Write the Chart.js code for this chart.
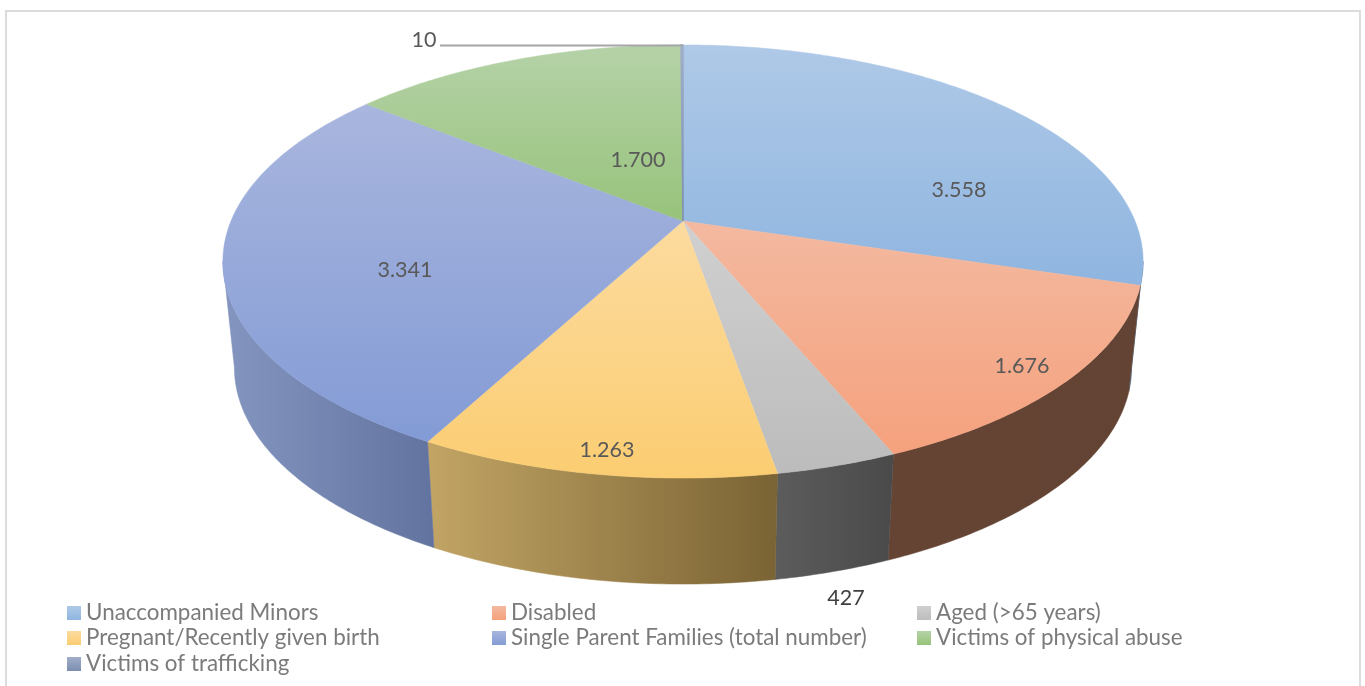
<!DOCTYPE html>
<html>
<head>
<meta charset="utf-8">
<title>Vulnerable groups</title>
<style>
  html, body { margin: 0; padding: 0; background: #fff; overflow: hidden; }
  canvas { display: block; }
</style>
<script src="https://cdn.jsdelivr.net/npm/chart.js@4"></script>
</head>
<body>
<canvas id="pie3d" width="1365" height="686"></canvas>
<script>
const categories = [
  'Unaccompanied Minors',
  'Disabled',
  'Aged (>65 years)',
  'Pregnant/Recently given birth',
  'Single Parent Families (total number)',
  'Victims of physical abuse',
  'Victims of trafficking'
];
const values = [3558, 1676, 427, 1263, 3341, 1700, 10];

// top face gradient (top -> bottom)
const faceTop = ['#afc9e7', '#f3b9a0', '#d0d0d0', '#fcdb9f', '#a9b6de', '#b5d2a8', '#a0aec9'];
const faceBottom = ['#8fb5e0', '#f5a17d', '#bcbcbc', '#fbcd72', '#839bd5', '#97c37b', '#7c8eb0'];
// side wall gradient (left -> right)
const wallLeft = ['#4f6b8e', '#654434', '#5c5c5c', '#c2a565', '#8496c0', '#5f7a50', '#5c6a86'];
const wallRight = ['#4f6b8e', '#634333', '#4a4a4a', '#7a6334', '#62739f', '#5f7a50', '#5c6a86'];

// perspective of the pie disc
const view = { cx: 683, cy: 221, a: 209, b: 452, k: 0.187, depth: 106, shrink: 0.975 };
// where excel put the value labels
const labelPos = [[959, 190], [1022, 366], [846, 598], [607, 450], [405, 270], [638, 160], [424, 40]];
const labelCol = ['#595959', '#595959', '#404040', '#595959', '#595959', '#595959', '#595959'];
const legendCols = [67, 492, 917];
const legendRows = [606, 631, 657];

function project(angle) {
  const u = Math.cos(angle), v = Math.sin(angle);
  const w = 1 - view.k * v;
  return { x: view.cx + view.b * u / w, y: view.cy + view.a * v / w };
}

function lower(p) {
  return { x: view.cx + (p.x - view.cx) * view.shrink, y: p.y + view.depth };
}

function rimPoints(start, end) {
  const pts = [];
  const steps = Math.max(2, Math.ceil((end - start) * 90));
  for (let i = 0; i <= steps; i++) {
    pts.push(project(start + (end - start) * i / steps));
  }
  return pts;
}

function fmt(n) {
  return n.toLocaleString('de-DE');
}

const pie3dPlugin = {
  id: 'pie3d',
  beforeDraw(chart) {
    const c = chart.ctx;
    c.save();
    c.fillStyle = '#fff';
    c.fillRect(0, 0, chart.width, chart.height);
    c.strokeStyle = '#dcdcdc';
    c.lineWidth = 2;
    c.beginPath();
    c.moveTo(6, chart.height);
    c.lineTo(6, 11);
    c.lineTo(1360, 11);
    c.lineTo(1360, chart.height);
    c.stroke();
    c.restore();
  },
  // replaces the flat arcs by the tilted disc, angles still come from the arc elements
  beforeDatasetDraw(chart, args) {
    const c = chart.ctx;
    const arcs = chart.getDatasetMeta(args.index).data.map(el => el.getProps(['startAngle', 'endAngle']));
    // only the front of the wall can be seen
    const frontFrom = Math.asin(view.k);
    const frontTo = Math.PI - frontFrom;

    c.save();
    arcs.forEach((arc, i) => {
      const start = Math.max(arc.startAngle, frontFrom);
      const end = Math.min(arc.endAngle, frontTo);
      if (end <= start) return;
      const rim = rimPoints(start, end);
      const base = rim.map(lower);
      const xs = rim.concat(base).map(p => p.x);
      const g = c.createLinearGradient(Math.min(...xs), 0, Math.max(...xs), 0);
      g.addColorStop(0, wallLeft[i]);
      g.addColorStop(1, wallRight[i]);
      c.fillStyle = g;
      c.strokeStyle = g;
      c.lineWidth = 0.5;
      c.beginPath();
      rim.forEach((p, j) => j ? c.lineTo(p.x, p.y) : c.moveTo(p.x, p.y));
      base.reverse().forEach(p => c.lineTo(p.x, p.y));
      c.closePath();
      c.fill();
      c.stroke();
    });

    arcs.forEach((arc, i) => {
      const rim = rimPoints(arc.startAngle, arc.endAngle);
      const ys = rim.map(p => p.y).concat(view.cy);
      const g = c.createLinearGradient(0, Math.min(...ys), 0, Math.max(...ys));
      g.addColorStop(0, faceTop[i]);
      g.addColorStop(1, faceBottom[i]);
      c.fillStyle = g;
      c.strokeStyle = g;
      // the tiny slice would vanish otherwise
      c.lineWidth = arc.endAngle - arc.startAngle < 0.02 ? 1.5 : 0.5;
      c.beginPath();
      c.moveTo(view.cx, view.cy);
      rim.forEach(p => c.lineTo(p.x, p.y));
      c.closePath();
      c.fill();
      c.stroke();
    });
    c.restore();
    return false;
  },
  afterDatasetsDraw(chart) {
    const c = chart.ctx;
    const vals = chart.data.datasets[0].data;
    c.save();

    // leader line of the smallest slice
    c.strokeStyle = '#a6a6a6';
    c.lineWidth = 2;
    c.beginPath();
    c.moveTo(440, 45.5);
    c.lineTo(view.cx, 45.5);
    c.stroke();

    c.font = '21.5px Lato';
    c.textAlign = 'center';
    c.textBaseline = 'middle';
    vals.forEach((v, i) => {
      c.fillStyle = labelCol[i];
      c.fillText(fmt(v), labelPos[i][0], labelPos[i][1]);
    });

    c.font = '22.4px Lato';
    c.textAlign = 'left';
    chart.data.labels.forEach((name, i) => {
      const x = legendCols[i % 3], y = legendRows[Math.floor(i / 3)];
      const g = c.createLinearGradient(0, y, 0, y + 14);
      g.addColorStop(0, faceTop[i]);
      g.addColorStop(1, faceBottom[i]);
      c.fillStyle = g;
      c.fillRect(x, y, 14, 14);
      c.fillStyle = '#7b7b7b';
      c.fillText(name, x + 19, y + 7);
    });
    c.restore();
  }
};

new Chart(document.getElementById('pie3d'), {
  type: 'pie',
  data: {
    labels: categories,
    datasets: [{
      data: values,
      backgroundColor: faceBottom,
      borderWidth: 0
    }]
  },
  options: {
    responsive: false,
    animation: false,
    events: [],
    plugins: {
      legend: { display: false },
      tooltip: { enabled: false }
    }
  },
  plugins: [pie3dPlugin]
});
</script>
</body>
</html>
